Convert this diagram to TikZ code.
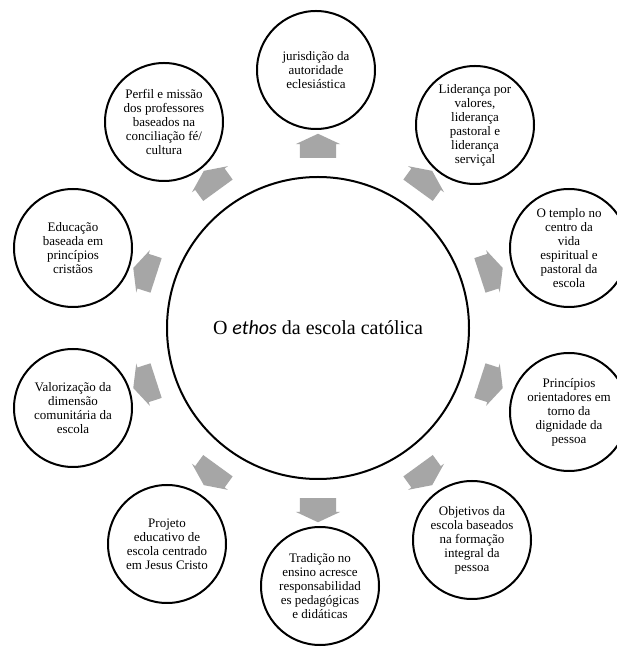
\documentclass[tikz,border=0pt]{standalone}
\usepackage{fontspec}
\setmainfont{Liberation Serif}
\newfontfamily\ethosfont{Carlito}
\usetikzlibrary{shapes.arrows}
\definecolor{arrowgray}{HTML}{A6A6A6}
\begin{document}
\begin{tikzpicture}[x=1pt,y=1pt,
  topic/.style={circle, draw=black, line width=2pt, minimum size=118pt,
    inner sep=0pt, align=center, font=\fontsize{13}{14}\selectfont},
  hub/.style={circle, draw=black, line width=2pt, minimum size=302pt,
    inner sep=0pt, font=\fontsize{20}{24}\selectfont},
  outarrow/.style={single arrow, fill=arrowgray, draw=none,
    minimum height=24pt, single arrow head extend=4pt,
    single arrow tip angle=130, inner xsep=0pt, inner ysep=18pt}]
\useasboundingbox (0,0) rectangle (617,648);
\fill[white] (0,0) rectangle (617,648);
\clip (0,0) rectangle (617,648);

% central theme
\node[hub] (hub) at (318,320) {O {\ethosfont\itshape ethos} da escola católica};
\coordinate (c) at (318,320);

% outward block arrows around the hub
\foreach \ang [count=\i] in {90,54,18,-18,-54,-90,-126,-162,162,126}
  \node[outarrow, rotate=\ang] (a\i) at ([shift={(\ang:178)}]c) {};

% surrounding themes
\node[topic] (t1) at (316,578) {jurisdição da\\autoridade\\eclesiástica};
\node[topic] (t2) at (475,523) {Liderança por\\valores,\\liderança\\pastoral e\\liderança\\serviçal};
\node[topic] (t3) at (569,400) {O templo no\\centro da\\vida\\espiritual e\\pastoral da\\escola};
\node[topic] (t4) at (569,236) {Princípios\\orientadores em\\torno da\\dignidade da\\pessoa};
\node[topic] (t5) at (472,108) {Objetivos da\\escola baseados\\na formação\\integral da\\pessoa};
\node[topic] (t6) at (320,62) {Tradição no\\ensino acresce\\responsabilidad\\es pedagógicas\\e didáticas};
\node[topic] (t7) at (167,104) {Projeto\\educativo de\\escola centrado\\em Jesus Cristo};
\node[topic] (t8) at (73,240) {Valorização da\\dimensão\\comunitária da\\escola};
\node[topic] (t9) at (73,400) {Educação\\baseada em\\princípios\\cristãos};
\node[topic] (t10) at (164,526) {Perfil e missão\\dos professores\\baseados na\\conciliação fé/\\cultura};
\end{tikzpicture}
\end{document}
